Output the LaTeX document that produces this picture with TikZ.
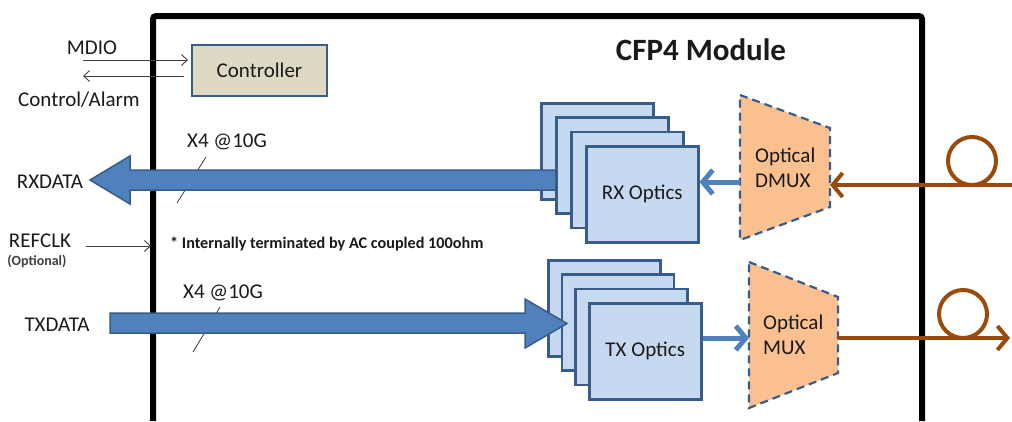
\documentclass[tikz,border=0pt]{standalone}
\usepackage{fontspec}
\setmainfont{Carlito}
\usetikzlibrary{arrows.meta}
\definecolor{boxblue}{HTML}{385D8A}
\definecolor{arrowblue}{HTML}{4F81BD}
\definecolor{optfill}{HTML}{C6D9F1}
\definecolor{ctrlfill}{HTML}{DDD9C3}
\definecolor{muxfill}{HTML}{FAC090}
\definecolor{fiber}{HTML}{9A4A0C}
\definecolor{thinline}{HTML}{404040}
\definecolor{txt}{HTML}{1A1A1A}
\begin{document}
\begin{tikzpicture}[x=1pt,y=-1pt,
  lbl/.style={font=\fontsize{21}{25}\selectfont, text=txt, inner sep=0pt},
  optbox/.style={draw=boxblue, fill=optfill, line width=2.5pt, minimum width=112pt, minimum height=96pt, inner sep=0pt, anchor=north west},
  sig/.style={draw=thinline, line width=0.9pt, -{Straight Barb[length=6pt,width=11pt]}},
  slash/.style={draw=thinline, line width=0.8pt},
  blockarrow/.style={fill=arrowblue, draw=boxblue, line width=1.5pt, line join=miter},
  smallarrow/.style={draw=arrowblue, line width=5pt, -{Straight Barb[length=10pt,width=24pt]}},
  muxshape/.style={fill=muxfill, draw=boxblue, line width=2.2pt, dash pattern=on 8pt off 5pt},
  fiberline/.style={draw=fiber, line width=4pt, -{Straight Barb[length=10pt,width=24pt]}},
  fiberloop/.style={draw=fiber, line width=4pt}
]
\useasboundingbox (0,0) rectangle (1012,421);
\fill[white] (0,0) rectangle (1012,421);

% module outline
\draw[line width=6pt, rounded corners=3pt] (153,421) -- (153,16) -- (922,16) -- (922,421);
\node[font=\fontsize{31}{36}\selectfont\bfseries, text=txt, inner sep=0pt] (title) at (701,50) {CFP4 Module};

% controller
\node[draw=boxblue, fill=ctrlfill, line width=2pt, minimum width=135pt, minimum height=51pt, lbl] (ctrl) at (259.5,70.5) {Controller};
\coordinate (mdioS) at (83,60);
\coordinate (alarmE) at (83,76);
\draw[sig, shorten >=3pt] (mdioS) -- (mdioS -| ctrl.west);
\draw[sig, shorten <=7pt] (alarmE -| ctrl.west) -- (alarmE);
\node[lbl] (mdio) at (92,48) {MDIO};
\node[lbl] (alarm) at (79,100) {Control/Alarm};

% left labels
\node[lbl] (rxdata) at (50,182) {RXDATA};
\node[lbl] (refclk) at (40,241) {REFCLK};
\node[font=\fontsize{14}{16}\selectfont\bfseries, text=thinline, inner sep=0pt] (opt) at (37,261) {(Optional)};
\node[lbl] (txdata) at (57,325) {TXDATA};
\coordinate (refS) at (86,246);
\coordinate (refE) at (151,246);
\draw[sig] (refS) -- (refE);
\node[font=\fontsize{16.2}{19}\selectfont\bfseries, text=txt, inner sep=0pt, anchor=west] (note) at (170,244) {* Internally terminated by AC coupled 100ohm};

% lane labels and slashes
\node[lbl] (rxlanes) at (227,142) {X4 @10G};
\node[lbl] (txlanes) at (223,293) {X4 @10G};
\draw[slash] (206,157) -- (177,203);
\draw[slash] (220,307) -- (193,352);

% RX optics stack
\node[optbox] (rx1) at (540,102) {};
\draw[blockarrow] (561,170) -- (130,170) -- (130,156) -- (90,180) -- (130,204) -- (130,190) -- (561,190) -- cycle;
\node[optbox] (rx2) at (555,116.3) {};
\node[optbox] (rx3) at (570,130.6) {};
\node[optbox, lbl, minimum width=112pt, minimum height=96pt, anchor=north west] (rx4) at (585,145) {RX Optics};

% TX optics stack
\node[optbox] (tx1) at (547,259) {};
\node[optbox] (tx2) at (560.7,273.3) {};
\node[optbox] (tx3) at (574.3,287.6) {};
\node[optbox, lbl, minimum width=112pt, minimum height=96pt, anchor=north west] (tx4) at (588,302) {TX Optics};
\draw[blockarrow] (110,313) -- (525,313) -- (525,299) -- (567,323.5) -- (525,348) -- (525,333) -- (110,333) -- cycle;

% DMUX
\coordinate (d1) at (740,95);
\coordinate (d2) at (830,128);
\coordinate (d3) at (830,207);
\coordinate (d4) at (740,240);
\draw[muxshape] (d1) -- (d2) -- (d3) -- (d4) -- cycle;
\node[lbl, align=left, anchor=west] (dmuxtxt) at (755,168) {Optical\\DMUX};

% MUX
\coordinate (m1) at (749,262);
\coordinate (m2) at (838,297);
\coordinate (m3) at (838,373);
\coordinate (m4) at (749,408);
\draw[muxshape] (m1) -- (m2) -- (m3) -- (m4) -- cycle;
\node[lbl, align=left, anchor=west] (muxtxt) at (763,335) {Optical\\MUX};

% inner blue arrows
\coordinate (dmuxL) at (740,182);
\coordinate (muxL) at (749,338);
\draw[smallarrow] (dmuxL) -- (dmuxL -| rx4.east);
\draw[smallarrow] (muxL -| tx4.east) -- (muxL);

% fibers
\coordinate (fibRin) at (1012,185);
\coordinate (dmuxR) at (830,185);
\draw[fiberline] (fibRin) -- (dmuxR);
\draw[fiberloop] (972,161) circle[radius=24];
\coordinate (muxR) at (838,338);
\coordinate (fibTout) at (1010,338);
\draw[fiberline] (muxR) -- (fibTout);
\draw[fiberloop] (963,314) circle[radius=24];
\end{tikzpicture}
\end{document}
